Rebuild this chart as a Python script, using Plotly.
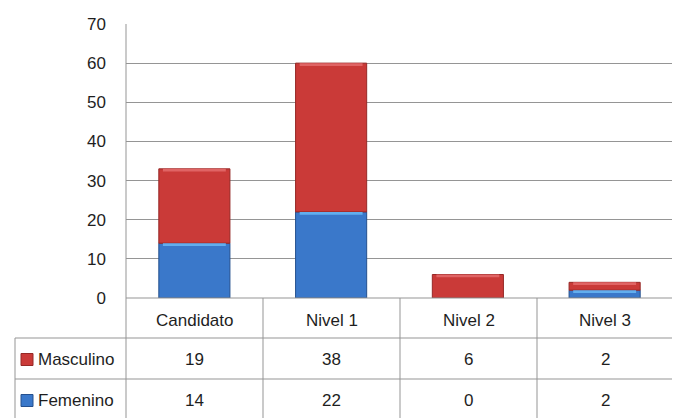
import plotly.graph_objects as go

categories = ["Candidato", "Nivel 1", "Nivel 2", "Nivel 3"]
series_names = ["Masculino", "Femenino"]
masculino = [19, 38, 6, 2]
femenino = [14, 22, 0, 2]
y_ticks = [0, 10, 20, 30, 40, 50, 60, 70]

RED = "#CA3A38"
RED_LINE = "#962826"
RED_HI = "#E06464"
BLUE = "#3A78CA"
BLUE_LINE = "#25508E"
BLUE_HI = "#62AEEE"
GRID = "#959595"
TXT = "#1e1e1e"
FONT = "Liberation Sans, Arial, sans-serif"

# page is offset by the default 8px body margin
OFF = 8
W, H = 680 - OFF, 418 - OFF
X0, X1, Y0, Y1 = 126, 673, 24, 298   # plot area in page pixels
L, T = X0 - OFF, Y0 - OFF
R, B = W - (X1 - OFF), H - (Y1 - OFF)
PW, PH = X1 - X0, Y1 - Y0

def px(xp):
    return (xp - X0) / PW

def py(yp):
    return (Y1 - yp) / PH

BAND = 0.7  # highlight band thickness (data units) for the bevelled look

fig = go.Figure()
fem_base = [0] * len(categories)
mas_base = list(femenino)
fig.add_trace(go.Bar(x=categories, y=femenino, base=fem_base, name=series_names[1],
                     marker=dict(color=BLUE, line=dict(color=BLUE_LINE, width=1))))
fig.add_trace(go.Bar(x=categories, y=masculino, base=mas_base, name=series_names[0],
                     marker=dict(color=RED, line=dict(color=RED_LINE, width=1))))
# top highlight bands
for vals, bases, hi in [(femenino, fem_base, BLUE_HI), (masculino, mas_base, RED_HI)]:
    hy = [min(BAND, v) if v > 0 else 0 for v in vals]
    hb = [b + v - h for b, v, h in zip(bases, vals, hy)]
    fig.add_trace(go.Bar(x=categories, y=hy, base=hb, hoverinfo="skip",
                         marker=dict(color=hi, line=dict(width=0)), width=0.46))

shapes = []
annotations = []
line = dict(color=GRID, width=1)

row_lines = [298, 338, 379, 420]
col_x = [126, 263, 400, 537, 673]
left_x = 15

for yv in row_lines[1:3]:
    shapes.append(dict(type="line", xref="paper", yref="paper",
                       x0=px(left_x), x1=px(col_x[-1]), y0=py(yv), y1=py(yv), line=line))
shapes.append(dict(type="line", xref="paper", yref="paper",
                   x0=px(col_x[0]), x1=px(col_x[-1]), y0=py(298), y1=py(298), line=line))
for i, xv in enumerate(col_x):
    y_top = Y0 if i == 0 else 298
    shapes.append(dict(type="line", xref="paper", yref="paper",
                       x0=px(xv), x1=px(xv), y0=py(y_top), y1=py(420), line=line))
shapes.append(dict(type="line", xref="paper", yref="paper",
                   x0=px(left_x), x1=px(left_x), y0=py(338), y1=py(420), line=line))

fnt = dict(size=17, color=TXT, family=FONT)

for i, c in enumerate(categories):
    annotations.append(dict(x=px((col_x[i] + col_x[i + 1]) / 2), y=py(320), xref="paper", yref="paper",
                            xanchor="center", yanchor="middle",
                            text=c, showarrow=False, font=fnt))

rows = [(series_names[0], masculino, RED, RED_LINE), (series_names[1], femenino, BLUE, BLUE_LINE)]
for r, (name, vals, col, lc) in enumerate(rows):
    yc = (row_lines[r + 1] + row_lines[r + 2]) / 2 + 1
    shapes.append(dict(type="rect", xref="paper", yref="paper",
                       x0=px(21), x1=px(33), y0=py(yc - 6), y1=py(yc + 6),
                       fillcolor=col, line=dict(color=lc, width=1)))
    annotations.append(dict(x=px(36), y=py(yc), xref="paper", yref="paper",
                            xanchor="left", yanchor="middle",
                            text=name, showarrow=False, font=fnt))
    for i, v in enumerate(vals):
        annotations.append(dict(x=px((col_x[i] + col_x[i + 1]) / 2), y=py(yc), xref="paper", yref="paper",
                                xanchor="center", yanchor="middle",
                                text=str(v), showarrow=False, font=fnt))

fig.update_layout(
    width=W, height=H,
    margin=dict(l=L, r=R, t=T, b=B, pad=0),
    barmode="overlay", bargap=0.48,
    plot_bgcolor="white", paper_bgcolor="white",
    showlegend=False,
    shapes=shapes, annotations=annotations,
    font=dict(family=FONT, color=TXT),
    xaxis=dict(showticklabels=False, showgrid=False, zeroline=False, showline=False, ticks=""),
    yaxis=dict(range=[0, 70], tickvals=y_ticks, showgrid=True, gridcolor=GRID, gridwidth=1,
               zeroline=False, showline=False, ticks="", ticklabelstandoff=19,
               tickfont=fnt),
)

fig.write_html("out.html")
